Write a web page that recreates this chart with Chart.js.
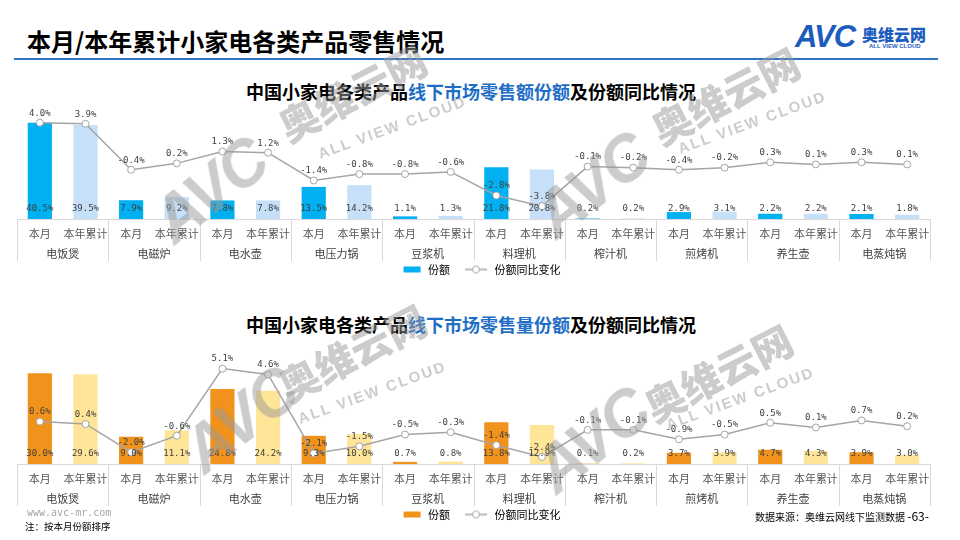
<!DOCTYPE html>
<html>
<head>
<meta charset="utf-8">
<title>本月/本年累计小家电各类产品零售情况</title>
<script src="https://cdn.jsdelivr.net/npm/chart.js"></script>
<style>
  body { margin:0; width:960px; height:540px; position:relative; overflow:hidden; background:#fff;
         font-family:"Noto Sans CJK SC", sans-serif; }
  .abs { position:absolute; white-space:nowrap; }
  .ctitle { font-size:18px; font-weight:bold; color:#000; width:960px; text-align:center; left:-9px; }
  .ctitle span { color:#1f6ec6; }
  canvas.c { position:absolute; left:0; }
  .wm { position:absolute; color:#9a9a9a; opacity:.5; font-weight:bold; pointer-events:none; white-space:nowrap; z-index:5; }
  .wm.avc { font:italic 900 64px "Liberation Sans"; letter-spacing:-2px; }
  .wm.cn { font-size:40px; font-weight:900; }
  .wm.en { font:bold 15px "Liberation Sans"; letter-spacing:2px; }
</style>
</head>
<body>
<div class="abs" style="left:27px;top:23px;font-size:24px;font-weight:bold;color:#000;">本月/本年累计小家电各类产品零售情况</div>
<div class="abs" style="left:14px;top:58px;width:924px;height:2px;background:#2f72c0;"></div>
<div class="abs" style="left:795px;top:19px;font:italic bold 31px 'Liberation Sans';color:#1d5cbf;letter-spacing:-1px;">AVC</div>
<div class="abs" style="left:862px;top:22px;font-size:16px;font-weight:900;color:#1d5cbf;">奥维云网</div>
<div class="abs" style="left:869px;top:43px;font:bold 6px 'Liberation Sans';color:#1d5cbf;">ALL VIEW CLOUD</div>

<div class="abs ctitle" style="top:78px;">中国小家电各类产品<span>线下市场零售额份额</span>及份额同比情况</div>
<div class="abs ctitle" style="top:311px;">中国小家电各类产品<span>线下市场零售量份额</span>及份额同比情况</div>

<canvas id="amtChart" class="c" width="960" height="185" style="top:100px;"></canvas>
<canvas id="volChart" class="c" width="960" height="185" style="top:345px;"></canvas>

<div class="abs" style="left:27px;top:507px;font:10px 'DejaVu Sans Mono';color:#a6a6a6;">www.avc-mr.com</div>
<div class="abs" style="left:25px;top:519px;font-size:9.5px;color:#000;">注：按本月份额排序</div>
<div class="abs" style="left:755px;top:507px;font-size:10px;color:#000;">数据来源：奥维云网线下监测数据 <span style="font-size:12px;">-63-</span></div>

<div class="wm avc" style="left:210px;top:190px;transform:translate(-50%,-50%) rotate(-38deg);">AVC</div>
<div class="wm cn" style="left:352px;top:92px;transform:translate(-50%,-50%) rotate(-27deg);">奥维云网</div>
<div class="wm en" style="left:392px;top:127px;transform:translate(-50%,-50%) rotate(-20deg);">ALL VIEW CLOUD</div>
<div class="wm avc" style="left:592px;top:185px;transform:translate(-50%,-50%) rotate(-38deg);">AVC</div>
<div class="wm cn" style="left:725px;top:95px;transform:translate(-50%,-50%) rotate(-27deg);">奥维云网</div>
<div class="wm en" style="left:752px;top:122px;transform:translate(-50%,-50%) rotate(-20deg);">ALL VIEW CLOUD</div>
<div class="wm avc" style="left:240px;top:420px;transform:translate(-50%,-50%) rotate(-38deg);">AVC</div>
<div class="wm cn" style="left:352px;top:352px;transform:translate(-50%,-50%) rotate(-27deg);">奥维云网</div>
<div class="wm en" style="left:372px;top:392px;transform:translate(-50%,-50%) rotate(-20deg);">ALL VIEW CLOUD</div>
<div class="wm avc" style="left:592px;top:440px;transform:translate(-50%,-50%) rotate(-38deg);">AVC</div>
<div class="wm cn" style="left:718px;top:372px;transform:translate(-50%,-50%) rotate(-27deg);">奥维云网</div>
<div class="wm en" style="left:740px;top:398px;transform:translate(-50%,-50%) rotate(-20deg);">ALL VIEW CLOUD</div>

<script>
// categories (sorted by this month's share)
const groups = ['电饭煲','电磁炉','电水壶','电压力锅','豆浆机','料理机','榨汁机','煎烤机','养生壶','电蒸炖锅'];
const periods = ['本月','本年累计'];

// 零售额份额 / 同比变化 (%)
const amtShareMonth = [40.5, 7.9, 7.8, 13.5, 1.1, 21.8, 0.2, 2.9, 2.2, 2.1];
const amtShareYtd   = [39.5, 9.2, 7.8, 14.2, 1.3, 20.8, 0.2, 3.1, 2.2, 1.8];
const amtChgMonth   = [4.0, -0.4, 1.3, -1.4, -0.8, -2.8, -0.1, -0.4, 0.3, 0.3];
const amtChgYtd     = [3.9, 0.2, 1.2, -0.8, -0.6, -3.8, -0.2, -0.2, 0.1, 0.1];

// 零售量份额 / 同比变化 (%)
const volShareMonth = [30.0, 9.0, 24.8, 9.3, 0.7, 13.8, 0.1, 3.7, 4.7, 3.9];
const volShareYtd   = [29.6, 11.1, 24.2, 10.0, 0.8, 12.9, 0.2, 3.9, 4.3, 3.0];
const volChgMonth   = [0.6, -2.0, 5.1, -2.1, -0.5, -1.4, -0.1, -0.9, 0.5, 0.7];
const volChgYtd     = [0.4, -0.6, 4.6, -1.5, -0.3, -2.4, -0.1, -0.5, 0.1, 0.2];

const CN = '"Noto Sans CJK SC", sans-serif';
const NUM = '"DejaVu Sans Mono", monospace';

function pair(a, b) {
  const out = [];
  a.forEach((v, i) => { out.push(v, b[i]); });
  return out;
}

// legend icons: transparent gap on the left keeps the items apart
function legendIcon(kind, color) {
  const c = document.createElement('canvas');
  c.width = 36; c.height = 10;
  const g = c.getContext('2d');
  if (kind === 'bar') {
    g.fillStyle = color;
    g.fillRect(17, 2, 17, 6);
  } else {
    g.strokeStyle = color; g.lineWidth = 1.5;
    g.beginPath(); g.moveTo(12, 5); g.lineTo(34, 5); g.stroke();
    g.fillStyle = '#fff'; g.lineWidth = 1;
    g.beginPath(); g.arc(23, 5, 3.5, 0, Math.PI * 2); g.fill(); g.stroke();
  }
  return c;
}

// value labels for bars (near base) and line points (above)
const valueLabels = {
  id: 'valueLabels',
  afterDatasetsDraw(chart) {
    const ctx = chart.ctx;
    const base = chart.scales.y.getPixelForValue(0);
    ctx.save();
    ctx.font = '9px ' + NUM;
    ctx.fillStyle = '#404040';
    ctx.textAlign = 'center';
    const bars = chart.data.datasets[0].data;
    chart.getDatasetMeta(0).data.forEach((el, i) => {
      ctx.textBaseline = 'middle';
      ctx.fillText(bars[i].toFixed(1) + '%', el.x, base - 10);
    });
    const pts = chart.data.datasets[1].data;
    chart.getDatasetMeta(1).data.forEach((el, i) => {
      ctx.textBaseline = 'bottom';
      ctx.fillText(pts[i].toFixed(1) + '%', el.x, el.y - 5);
    });
    ctx.restore();
  }
};

// group separators under the axis
const groupLines = {
  id: 'groupLines',
  afterDraw(chart) {
    const x = chart.scales.x, x2 = chart.scales.x2, area = chart.chartArea;
    const ctx = chart.ctx;
    ctx.save();
    ctx.strokeStyle = '#d9d9d9';
    ctx.lineWidth = 1;
    for (let k = 0; k <= groups.length; k++) {
      let px;
      if (k === 0) px = area.left;
      else if (k === groups.length) px = area.right;
      else px = (x.getPixelForValue(2 * k - 1) + x.getPixelForValue(2 * k)) / 2;
      px = Math.round(px) + 0.5;
      ctx.beginPath();
      ctx.moveTo(px, area.bottom);
      ctx.lineTo(px, x2.bottom);
      ctx.stroke();
    }
    ctx.restore();
  }
};

function makeChart(id, shares, changes, colMonth, colYtd, barMax, lineMin, lineMax, padTop) {
  const labels = [];
  groups.forEach(() => labels.push(...periods));
  const barIcon = legendIcon('bar', colMonth);
  const lineIcon = legendIcon('line', '#a5a5a5');
  return new Chart(document.getElementById(id), {
    type: 'bar',
    data: {
      labels: labels,
      datasets: [{
        label: '份额',
        data: shares,
        backgroundColor: shares.map((v, i) => i % 2 === 0 ? colMonth : colYtd),
        barPercentage: 0.53,
        categoryPercentage: 1,
        yAxisID: 'y',
        order: 2
      }, {
        type: 'line',
        label: '份额同比变化',
        data: changes,
        borderColor: '#a5a5a5',
        borderWidth: 1.5,
        pointRadius: 3.5,
        pointBackgroundColor: '#fff',
        pointBorderColor: '#a5a5a5',
        pointBorderWidth: 1,
        tension: 0,
        yAxisID: 'y2',
        order: 1
      }]
    },
    options: {
      responsive: false,
      animation: false,
      layout: { padding: { left: 17, right: 30, top: padTop, bottom: 0 } },
      scales: {
        x: {
          grid: { display: false, drawTicks: false },
          border: { display: true, color: '#d9d9d9' },
          ticks: { color: '#595959', font: { family: CN, size: 11 }, padding: 8, maxRotation: 0, autoSkip: false },
          afterFit: s => { s.height = 22; }
        },
        x2: {
          type: 'category',
          labels: groups,
          position: 'bottom',
          offset: true,
          grid: { display: false, drawTicks: false },
          border: { display: false },
          ticks: { color: '#404040', font: { family: CN, size: 11 }, padding: 6, maxRotation: 0, autoSkip: false },
          afterFit: s => { s.height = 20; }
        },
        y: { display: false, min: 0, max: barMax },
        y2: { display: false, min: lineMin, max: lineMax }
      },
      plugins: {
        tooltip: { enabled: false },
        legend: {
          position: 'bottom',
          labels: {
            usePointStyle: true,
            pointStyleWidth: 36,
            padding: 3,
            color: '#595959',
            font: { family: CN, size: 11 },
            generateLabels: () => [
              { text: '份额', pointStyle: barIcon, fillStyle: colMonth, strokeStyle: 'transparent', lineWidth: 0, hidden: false, datasetIndex: 0 },
              { text: '份额同比变化', pointStyle: lineIcon, fillStyle: '#fff', strokeStyle: 'transparent', lineWidth: 0, hidden: false, datasetIndex: 1 }
            ]
          }
        }
      }
    },
    plugins: [valueLabels, groupLines]
  });
}

makeChart('amtChart', pair(amtShareMonth, amtShareYtd), pair(amtChgMonth, amtChgYtd),
  '#00b0f0', '#c5e0f8', 45, -5, 5, 12);
makeChart('volChart', pair(volShareMonth, volShareYtd), pair(volChgMonth, volChgYtd),
  '#f0921c', '#ffe597', 35, -3, 6, 13);
</script>
</body>
</html>
